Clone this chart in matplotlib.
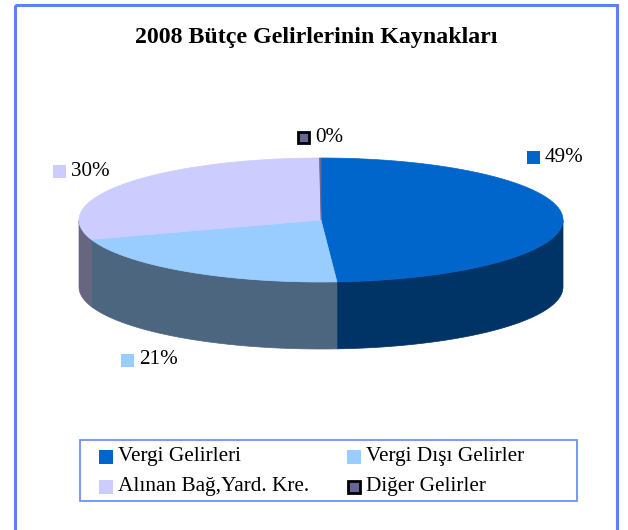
import numpy as np
import matplotlib
matplotlib.use("Agg")
import matplotlib.pyplot as plt
from matplotlib.patches import Polygon, Rectangle

plt.rcParams['font.family'] = ['Liberation Serif', 'DejaVu Serif']

# data
categories = ['Vergi Gelirleri', 'Vergi Dışı Gelirler',
              'Alınan Bağ,Yard. Kre.', 'Diğer Gelirler']
values = [49, 21, 30, 0.1]
colors = ['#0066CC', '#99CCFF', '#CCCCFF', '#666699']
side_colors = ['#003366', '#4D6680', '#666680', '#33334D']
title = '2008 Bütçe Gelirlerinin Kaynakları'

# label anchors (left edge of marker, vertical centre), in pixels
label_pos = [(527, 157), (121, 360), (53, 171), (297, 137)]

W, H = 628, 530
fig = plt.figure(figsize=(W / 100, H / 100), dpi=100)
ax = fig.add_axes([0, 0, 1, 1])
ax.set_xlim(0, W)
ax.set_ylim(H, 0)
ax.axis('off')

# outer frame
ax.add_patch(Rectangle((14.5, 4.5), 602, 540, fill=False, ec='#5F7FFF', lw=2.2))

ax.text(316, 38, title, ha='center', va='center', fontsize=17.2, fontweight='bold')

# 3d pie geometry
cx, cy, a, b, depth = 321, 220, 242, 62, 67


def pt(t):
    return cx + a * np.cos(t), cy - b * np.sin(t)


total = sum(values)
angles = [np.pi / 2]
for v in values:
    angles.append(angles[-1] - 2 * np.pi * v / total)

# side walls (front half only)
for i in range(len(values)):
    t0, t1 = angles[i], angles[i + 1]
    ts = np.linspace(t0, t1, 200)
    ts = ts[np.sin(ts) <= 0.0]
    if len(ts) < 2:
        continue
    xs, ys = pt(ts)
    top = np.column_stack([xs, ys])
    bot = np.column_stack([xs, ys + depth])[::-1]
    ax.add_patch(Polygon(np.vstack([top, bot]), closed=True,
                         fc=side_colors[i], ec=side_colors[i], lw=0.5))

# top faces
for i in range(len(values)):
    t0, t1 = angles[i], angles[i + 1]
    ts = np.linspace(t0, t1, 200)
    xs, ys = pt(ts)
    poly = np.vstack([[cx, cy], np.column_stack([xs, ys])])
    ax.add_patch(Polygon(poly, closed=True, fc=colors[i], ec=colors[i], lw=0.5))

# data labels
for i, (x, y) in enumerate(label_pos):
    if i == 3:
        ax.add_patch(Rectangle((x + 1, y - 5.5), 11, 11, fc=colors[i], ec='black', lw=2))
    else:
        ax.add_patch(Rectangle((x, y - 6.5), 13, 13, fc=colors[i], ec='none'))
    pct = int(round(100 * values[i] / total))
    ax.text(x + 18, y, f'{pct}%', ha='left', va='center', fontsize=15.2)

# legend
ax.add_patch(Rectangle((80, 440), 497, 61, fill=False, ec='#6F8FFF', lw=1.3))
leg_pos = [(99, 457), (347, 457), (99, 487), (347, 487)]
for i, (x, y) in enumerate(leg_pos):
    if i == 3:
        ax.add_patch(Rectangle((x + 1, y - 6), 12, 12, fc=colors[i], ec='black', lw=2))
    else:
        ax.add_patch(Rectangle((x, y - 7), 14, 14, fc=colors[i], ec='none'))
    ax.text(x + 19, y, categories[i], ha='left', va='center', fontsize=15.3)

fig.savefig('out.png', dpi=100)
